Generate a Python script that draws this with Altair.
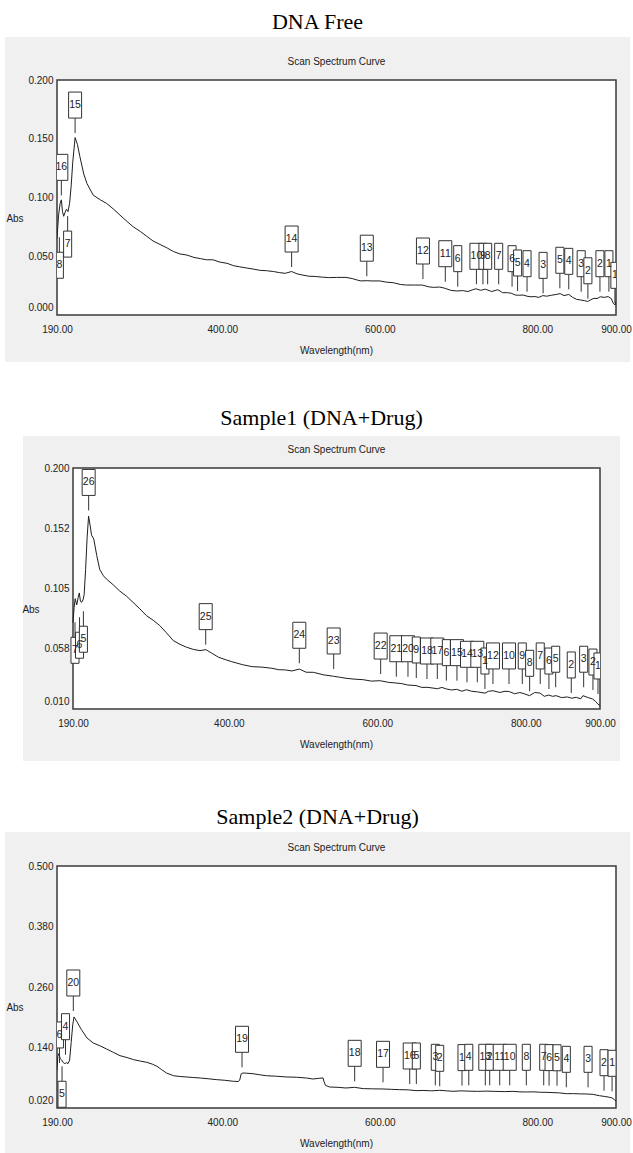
import altair as alt
import pandas as pd

FONT = "Liberation Sans, Arial, sans-serif"
SERIF = "Liberation Serif, Times New Roman, serif"

# ---------------- Panel 1: DNA Free ----------------
P1_WL = [190, 192, 194, 195.5, 197, 198.5, 200, 202, 204, 206,
         208, 210, 213, 216, 219, 224, 228, 236, 245, 253,
         262, 270, 280, 287, 296, 304, 312, 321, 330, 338,
         346, 355, 364, 372, 380, 388, 397, 406, 414, 422,
         431, 440, 448, 456, 465, 473, 480, 488, 495, 502,
         510, 518, 527, 536, 545, 557, 565, 570, 576, 583,
         590, 600, 608, 617, 626, 634, 644, 654, 662, 668,
         676, 683, 690, 698, 705, 712, 718, 722, 728, 734,
         742, 750, 756, 762, 767, 772, 776, 782, 787, 792,
         797, 802, 807, 812, 818, 824, 829, 834, 840, 845,
         850, 855, 860, 864, 868, 872, 876, 880, 885, 890,
         894, 896.5, 898.6, 900]
P1_ABS = [0.065, 0.085, 0.095, 0.098, 0.088, 0.084, 0.087, 0.090, 0.088, 0.095,
          0.110, 0.130, 0.151, 0.145, 0.135, 0.120, 0.112, 0.102, 0.098, 0.095,
          0.090, 0.085, 0.079, 0.075, 0.071, 0.067, 0.063, 0.060, 0.057, 0.054,
          0.052, 0.051, 0.049, 0.048, 0.047, 0.047, 0.045, 0.044, 0.042, 0.041,
          0.040, 0.039, 0.038, 0.0377, 0.037, 0.036, 0.0355, 0.037, 0.035, 0.034,
          0.033, 0.0328, 0.0322, 0.0318, 0.032, 0.032, 0.031, 0.030, 0.029, 0.0292,
          0.029, 0.029, 0.028, 0.0275, 0.026, 0.0255, 0.0255, 0.0255, 0.024, 0.0235,
          0.0238, 0.0227, 0.021, 0.0204, 0.0208, 0.020, 0.0215, 0.0223, 0.021, 0.022,
          0.020, 0.0215, 0.019, 0.019, 0.0185, 0.017, 0.0168, 0.017, 0.016, 0.0155,
          0.0157, 0.015, 0.0165, 0.016, 0.0168, 0.0175, 0.0182, 0.0165, 0.0175, 0.015,
          0.0133, 0.0128, 0.0122, 0.0115, 0.013, 0.0142, 0.014, 0.0155, 0.015, 0.0157,
          0.014, 0.010, 0.0085, 0.0115]
P1_LAB_WL = [193.0, 195.5, 203.5, 213.0, 488.0, 583.5, 654.8, 683.2, 699.0, 722.7,
             731.0, 737.0, 751.0, 768.0, 775.0, 787.0, 807.4, 828.7, 840.0, 855.8,
             864.3, 879.6, 891.0, 898.6]
P1_LAB_TIP = [0.070, 0.098, 0.088, 0.151, 0.037, 0.0292, 0.0268, 0.0245, 0.0203, 0.0223,
              0.0223, 0.0223, 0.0223, 0.0203, 0.0166, 0.0160, 0.0146, 0.0189, 0.0180, 0.0160,
              0.0100, 0.0160, 0.0160, 0.0061]
P1_LAB_TEXT = ["8", "16", "7", "15", "14", "13", "12", "11", "6", "10",
               "9", "8", "7", "6", "5", "4", "3", "5", "4", "3",
               "2", "2", "1", "1"]
P1_LAB_DIR = ["down", "up", "down", "up", "up", "up", "up", "up", "up", "up",
              "up", "up", "up", "up", "up", "up", "up", "up", "up", "up",
              "up", "up", "up", "up"]
P1_YTICKS = [0.0, 0.05, 0.10, 0.15, 0.20]

# ---------------- Panel 2: Sample1 ----------------
P2_WL = [190, 191.5, 193, 195, 197, 198.5, 200, 201.5, 203.5, 205,
         207, 209, 211, 213, 215, 218, 222, 226, 231, 235,
         244, 253, 262, 271, 280, 289, 298, 307, 316, 325,
         334, 343, 352, 361, 369, 377, 386, 395, 404, 418,
         431, 445, 458, 467, 476, 485, 495, 504, 514, 527,
         541, 550, 558, 570, 581, 592, 604, 615, 625, 633,
         641, 652, 660, 667, 675, 681, 687, 693, 700, 707,
         714, 720, 727, 735, 745, 750, 756, 765, 772, 778,
         785, 792, 798, 805, 812, 819, 825, 831, 836, 841,
         848, 856, 862, 868, 874, 877, 884, 890, 894, 897,
         900]
P2_ABS = [0.078, 0.090, 0.097, 0.092, 0.098, 0.1015, 0.095, 0.094, 0.096, 0.100,
          0.120, 0.145, 0.162, 0.155, 0.147, 0.144, 0.131, 0.120, 0.115, 0.1125,
          0.108, 0.103, 0.099, 0.094, 0.089, 0.0836, 0.080, 0.0757, 0.070, 0.064,
          0.061, 0.0587, 0.057, 0.056, 0.0568, 0.054, 0.0508, 0.049, 0.0473, 0.045,
          0.0434, 0.043, 0.0421, 0.041, 0.0408, 0.040, 0.0415, 0.039, 0.0389, 0.037,
          0.0358, 0.035, 0.0342, 0.0335, 0.0331, 0.032, 0.0323, 0.031, 0.0305, 0.030,
          0.0289, 0.0285, 0.027, 0.0271, 0.0265, 0.026, 0.027, 0.0258, 0.025, 0.0255,
          0.024, 0.0252, 0.024, 0.0235, 0.0225, 0.024, 0.0244, 0.023, 0.024, 0.0237,
          0.022, 0.023, 0.022, 0.0205, 0.023, 0.0226, 0.020, 0.021, 0.020, 0.0205,
          0.019, 0.0195, 0.0185, 0.0192, 0.018, 0.0205, 0.019, 0.0179, 0.016, 0.014,
          0.0126]
P2_LAB_WL = [192.7, 198.8, 204.0, 211.1, 368.8, 494.9, 541.2, 604.5, 625.6, 641.3,
             652.5, 666.9, 680.8, 693.0, 707.3, 720.8, 734.7, 745.0, 755.8, 777.4,
             795.3, 805.2, 819.5, 831.2, 840.3, 861.3, 878.0, 890.5, 897.3]
P2_LAB_TIP = [0.0819, 0.0859, 0.0906, 0.163, 0.0572, 0.0425, 0.0380, 0.0340, 0.0319, 0.0319,
              0.0309, 0.0301, 0.0301, 0.0288, 0.0288, 0.0275, 0.0275, 0.0222, 0.0262, 0.0262,
              0.0262, 0.0204, 0.0262, 0.0222, 0.0236, 0.0191, 0.0236, 0.0214, 0.0183]
P2_LAB_TEXT = ["7", "6", "5", "26", "25", "24", "23", "22", "21", "20",
               "9", "18", "17", "6", "15", "14", "13", "1", "12", "10",
               "9", "8", "7", "6", "5", "2", "3", "2", "1"]
P2_LAB_DIR = ["down", "down", "down", "up", "up", "up", "up", "up", "up", "up",
              "up", "up", "up", "up", "up", "up", "up", "up", "up", "up",
              "up", "up", "up", "up", "up", "up", "up", "up", "up"]
P2_YTICKS = [0.010, 0.058, 0.105, 0.152, 0.200]

# ---------------- Panel 3: Sample2 ----------------
P3_WL = [190, 191, 192.5, 194, 196, 198, 200, 202, 204, 206,
         208, 210, 211.6, 215, 221, 228, 236, 245, 253, 262,
         270, 279, 287, 296, 304, 311, 317, 323, 329, 338,
         346, 355, 363, 372, 382, 393, 403, 414, 420, 422,
         424, 426, 431, 439, 447, 456, 469, 482, 494, 507,
         515, 523, 528, 529, 531, 536, 547, 557, 568, 579,
         591, 604, 615, 625, 636, 646, 656, 666, 676, 685,
         693, 703, 712, 724, 735, 746, 758, 769, 778, 786,
         796, 804, 811, 820, 828, 837, 846, 854, 862, 871,
         879, 885, 890, 895, 898, 900]
P3_ABS = [0.095, 0.122, 0.128, 0.118, 0.115, 0.110, 0.108, 0.110, 0.108, 0.115,
          0.150, 0.185, 0.2006, 0.192, 0.1755, 0.159, 0.149, 0.143, 0.137, 0.130,
          0.1238, 0.120, 0.116, 0.113, 0.1106, 0.107, 0.1027, 0.096, 0.0894, 0.084,
          0.0825, 0.0815, 0.0805, 0.0795, 0.078, 0.0762, 0.075, 0.073, 0.0725, 0.075,
          0.088, 0.0894, 0.089, 0.088, 0.086, 0.084, 0.083, 0.0815, 0.081, 0.0795,
          0.0775, 0.079, 0.0795, 0.073, 0.065, 0.0617, 0.061, 0.0597, 0.061, 0.0584,
          0.058, 0.0577, 0.057, 0.0564, 0.056, 0.0544, 0.0548, 0.054, 0.0551, 0.054,
          0.0531, 0.054, 0.0535, 0.053, 0.0535, 0.053, 0.0525, 0.053, 0.052, 0.0518,
          0.052, 0.0512, 0.0511, 0.0505, 0.050, 0.0484, 0.0485, 0.048, 0.0478, 0.047,
          0.0444, 0.043, 0.0418, 0.040, 0.0365, 0.034]
P3_LAB_WL = [193.2, 196.4, 200.8, 210.7, 425.0, 568.1, 604.1, 638.0, 646.4, 670.5,
             676.1, 704.4, 713.0, 734.0, 739.6, 752.3, 765.0, 786.1, 808.2, 815.0,
             825.1, 836.9, 864.5, 884.8, 895.0]
P3_LAB_TIP = [0.1004, 0.1117, 0.1168, 0.2035, 0.0918, 0.0640, 0.0620, 0.0587, 0.0587, 0.0561,
              0.0541, 0.0555, 0.0561, 0.0561, 0.0561, 0.0561, 0.0561, 0.0561, 0.0561, 0.0555,
              0.0552, 0.0521, 0.0521, 0.0454, 0.0442]
P3_LAB_TEXT = ["6", "5", "4", "20", "19", "18", "17", "16", "5", "3",
               "2", "1", "4", "13", "2", "11", "10", "8", "7", "6",
               "5", "4", "3", "2", "1"]
P3_LAB_DIR = ["up", "down", "up", "up", "up", "up", "up", "up", "up", "up",
              "up", "up", "up", "up", "up", "up", "up", "up", "up", "up",
              "up", "up", "up", "up", "up"]
P3_YTICKS = [0.020, 0.140, 0.260, 0.380, 0.500]

X_TICKS = [190, 400, 600, 800, 900]

BOX1 = "M-0.31,-1L0.31,-1L0.31,1L-0.31,1Z"
BOX2 = "M-0.5,-1L0.5,-1L0.5,1L-0.5,1Z"
INK = "#222222"


def panel(title, wl, ab, lwl, ltip, ltext, ldir, ydom, yticks, x0, Wp, H,
          box, title_dx, title_dy):
    curve = pd.DataFrame({"wl": wl, "abs": ab})
    labs = pd.DataFrame({"wl": lwl, "tip": ltip, "label": ltext, "dir": ldir})
    one = pd.DataFrame({"k": [0]})
    W = x0 + Wp

    xs = alt.Scale(domain=[190, 900], range=[x0, W], nice=False, zero=False)
    ys = alt.Scale(domain=ydom, nice=False, zero=False)
    xaxis = alt.Axis(values=X_TICKS, format=".2f", title=None, grid=False, ticks=False,
                     domain=False, labelFont=FONT, labelFontSize=10, labelColor=INK,
                     labelPadding=9, labelOverlap=False, labelFlush=False, labelBound=False,
                     zindex=1)
    yaxis = alt.Axis(values=yticks, format=".3f", title=None, grid=False, ticks=False,
                     domain=False, labelFont=FONT, labelFontSize=10, labelColor=INK,
                     labelPadding=4, labelOverlap=False, labelFlush=False, labelBound=False,
                     zindex=1, offset=-x0,
                     labelOffset={"condition": {"test": f"datum.value <= {ydom[0] + 1e-6}",
                                                "value": -8}, "value": 0})

    def X(f):
        return alt.X(f"{f}:Q", scale=xs, axis=xaxis)

    def Y(f):
        return alt.Y(f"{f}:Q", scale=ys, axis=yaxis)

    layers = []
    layers.append(alt.Chart(one).mark_rect(fill="#f0f0f0").encode(
        x=alt.value(x0 + box[0]), x2=alt.value(W + box[1]),
        y=alt.value(box[2]), y2=alt.value(H + box[3])))
    layers.append(alt.Chart(one).mark_rect(fill="white", stroke="#3a3a3a", strokeWidth=1.5).encode(
        x=alt.value(x0), x2=alt.value(W), y=alt.value(0), y2=alt.value(H)))
    layers.append(alt.Chart(curve).mark_line(color="#1e1e1e", strokeWidth=1, clip=True).encode(
        x=X("wl"), y=Y("abs")))

    shape = alt.Shape("w:N", scale=alt.Scale(domain=["one", "two"], range=[BOX1, BOX2]), legend=None)
    for d, sgn in (("up", -1), ("down", 1)):
        base = alt.Chart(labs).transform_filter(f"datum.dir == '{d}'")
        layers.append(base.mark_rule(color="#333333", strokeWidth=1, yOffset=sgn * 4.5,
                                     y2Offset=sgn * 19.5, clip=True).encode(
            x=X("wl"), y=Y("tip"), y2=alt.Y2("tip")))
        layers.append(base.transform_calculate(
            w="length(datum.label) > 1 ? 'two' : 'one'").mark_point(
            filled=True, fill="white", stroke="#333333", strokeWidth=1, size=676, opacity=1,
            yOffset=sgn * 32.5, clip=True).encode(x=X("wl"), y=Y("tip"), shape=shape))
        layers.append(base.mark_text(font=FONT, fontSize=10.5, color=INK, yOffset=sgn * 32.5,
                                     baseline="middle", align="center", clip=True).encode(
            x=X("wl"), y=Y("tip"), text="label:N"))

    layers.append(alt.Chart(one).mark_text(font=FONT, fontSize=10, color=INK).encode(
        x=alt.value(x0 + Wp / 2), y=alt.value(-18), text=alt.value("Scan Spectrum Curve")))
    layers.append(alt.Chart(one).mark_text(font=FONT, fontSize=10, color=INK).encode(
        x=alt.value(x0 - 42), y=alt.value(H / 2 + 21), text=alt.value("Abs")))
    layers.append(alt.Chart(one).mark_text(font=FONT, fontSize=10, color=INK).encode(
        x=alt.value(x0 + Wp / 2), y=alt.value(H + 36), text=alt.value("Wavelength(nm)")))
    layers.append(alt.Chart(one).mark_text(font=SERIF, fontSize=22, color="black",
                                           baseline="middle").encode(
        x=alt.value(title_dx), y=alt.value(title_dy), text=alt.value(title)))

    return alt.layer(*layers).properties(width=W, height=H)


p1 = panel("DNA Free", P1_WL, P1_ABS, P1_LAB_WL, P1_LAB_TIP, P1_LAB_TEXT, P1_LAB_DIR,
           [0.0, 0.2], P1_YTICKS, 0, 559, 235, (-52, 14, -43, 47), 260.5, -58)
p2 = panel("Sample1 (DNA+Drug)", P2_WL, P2_ABS, P2_LAB_WL, P2_LAB_TIP, P2_LAB_TEXT, P2_LAB_DIR,
           [0.010, 0.200], P2_YTICKS, 16, 527, 241, (-50, 20, -32, 52), 264.5, -50)
p3 = panel("Sample2 (DNA+Drug)", P3_WL, P3_ABS, P3_LAB_WL, P3_LAB_TIP, P3_LAB_TEXT, P3_LAB_DIR,
           [0.020, 0.500], P3_YTICKS, 0, 559, 242, (-52, 14, -34, 45), 260.5, -49)

chart = alt.concat(p1, p2, p3, columns=1, spacing=45, align="none").properties(
    padding={"left": 5, "top": 11, "right": 0, "bottom": 0},
    background="white",
).configure_view(stroke=None)

chart.save("out.html", embed_options={"renderer": "svg", "actions": False})
